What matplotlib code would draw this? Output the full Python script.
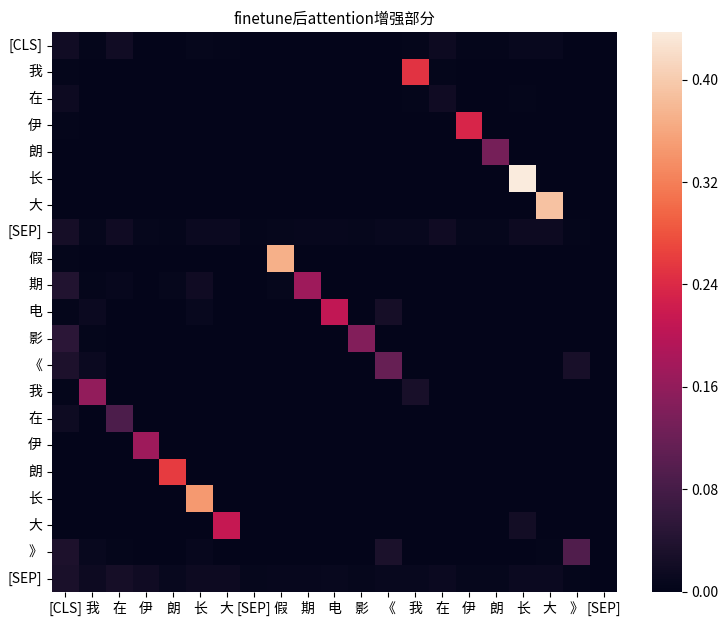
import matplotlib
matplotlib.use('Agg')
import matplotlib.pyplot as plt
import numpy as np
import seaborn as sns

plt.rcParams['font.family'] = ['Noto Sans CJK SC', 'DejaVu Sans']
plt.rcParams['axes.unicode_minus'] = False

tokens = ['[CLS]', '我', '在', '伊', '朗', '长', '大', '[SEP]',
          '假', '期', '电', '影', '《', '我', '在', '伊', '朗', '长', '大', '》', '[SEP]']

# attention gain, one list per row (query token), 21 columns (key token)
row_cls  = [0.020, 0.004, 0.020, 0.003, 0.003, 0.006, 0.004, 0.003, 0.003, 0.003, 0.003, 0.003, 0.003, 0.004, 0.014, 0.004, 0.004, 0.010, 0.010, 0.003, 0.003]
row_wo1  = [0.005, 0.002, 0.002, 0.002, 0.002, 0.002, 0.002, 0.002, 0.002, 0.002, 0.002, 0.002, 0.002, 0.250, 0.004, 0.002, 0.002, 0.002, 0.002, 0.002, 0.002]
row_zai1 = [0.014, 0.002, 0.002, 0.002, 0.002, 0.002, 0.002, 0.002, 0.002, 0.002, 0.002, 0.002, 0.002, 0.005, 0.018, 0.002, 0.002, 0.004, 0.002, 0.002, 0.002]
row_yi1  = [0.004, 0.002, 0.002, 0.002, 0.002, 0.002, 0.002, 0.002, 0.002, 0.002, 0.002, 0.002, 0.002, 0.002, 0.002, 0.235, 0.002, 0.002, 0.003, 0.002, 0.002]
row_lang1 = [0.003, 0.002, 0.002, 0.002, 0.002, 0.002, 0.002, 0.002, 0.002, 0.002, 0.002, 0.002, 0.002, 0.002, 0.002, 0.002, 0.130, 0.002, 0.002, 0.002, 0.002]
row_zhang1 = [0.002, 0.002, 0.002, 0.002, 0.002, 0.002, 0.002, 0.002, 0.002, 0.002, 0.002, 0.002, 0.002, 0.002, 0.002, 0.002, 0.002, 0.437, 0.002, 0.002, 0.002]
row_da1  = [0.002, 0.002, 0.002, 0.002, 0.002, 0.002, 0.002, 0.002, 0.002, 0.002, 0.002, 0.002, 0.002, 0.002, 0.002, 0.002, 0.002, 0.002, 0.390, 0.002, 0.002]
row_sep1 = [0.024, 0.006, 0.018, 0.006, 0.004, 0.012, 0.012, 0.004, 0.006, 0.008, 0.008, 0.006, 0.010, 0.010, 0.018, 0.006, 0.006, 0.014, 0.014, 0.005, 0.002]
row_jia  = [0.004, 0.002, 0.002, 0.002, 0.002, 0.002, 0.002, 0.002, 0.370, 0.003, 0.002, 0.002, 0.002, 0.002, 0.002, 0.002, 0.002, 0.002, 0.002, 0.002, 0.002]
row_qi   = [0.038, 0.004, 0.008, 0.003, 0.006, 0.018, 0.003, 0.003, 0.006, 0.172, 0.003, 0.002, 0.002, 0.002, 0.002, 0.002, 0.002, 0.002, 0.002, 0.002, 0.002]
row_dian = [0.004, 0.012, 0.003, 0.002, 0.002, 0.010, 0.002, 0.002, 0.002, 0.002, 0.208, 0.002, 0.025, 0.002, 0.002, 0.002, 0.002, 0.002, 0.002, 0.002, 0.002]
row_ying = [0.050, 0.004, 0.002, 0.002, 0.002, 0.002, 0.002, 0.002, 0.002, 0.002, 0.002, 0.145, 0.002, 0.002, 0.002, 0.002, 0.002, 0.002, 0.002, 0.002, 0.002]
row_lq   = [0.034, 0.012, 0.002, 0.002, 0.002, 0.002, 0.002, 0.002, 0.002, 0.002, 0.002, 0.002, 0.115, 0.002, 0.002, 0.002, 0.002, 0.002, 0.002, 0.028, 0.002]
row_wo2  = [0.004, 0.160, 0.002, 0.002, 0.002, 0.002, 0.002, 0.002, 0.002, 0.002, 0.002, 0.002, 0.002, 0.028, 0.002, 0.002, 0.002, 0.002, 0.002, 0.002, 0.002]
row_zai2 = [0.016, 0.003, 0.088, 0.002, 0.002, 0.002, 0.002, 0.002, 0.002, 0.002, 0.002, 0.002, 0.002, 0.002, 0.002, 0.002, 0.002, 0.002, 0.002, 0.002, 0.002]
row_yi2  = [0.003, 0.002, 0.002, 0.172, 0.002, 0.002, 0.002, 0.002, 0.002, 0.002, 0.002, 0.002, 0.002, 0.002, 0.002, 0.002, 0.002, 0.002, 0.002, 0.002, 0.002]
row_lang2 = [0.003, 0.002, 0.002, 0.002, 0.258, 0.002, 0.002, 0.002, 0.002, 0.002, 0.002, 0.002, 0.002, 0.002, 0.002, 0.002, 0.002, 0.002, 0.002, 0.002, 0.002]
row_zhang2 = [0.003, 0.002, 0.002, 0.002, 0.002, 0.345, 0.002, 0.002, 0.002, 0.002, 0.002, 0.002, 0.002, 0.002, 0.002, 0.002, 0.002, 0.002, 0.002, 0.002, 0.002]
row_da2  = [0.003, 0.002, 0.002, 0.002, 0.002, 0.002, 0.212, 0.002, 0.002, 0.002, 0.002, 0.002, 0.002, 0.002, 0.002, 0.002, 0.002, 0.022, 0.002, 0.002, 0.002]
row_rq   = [0.034, 0.010, 0.004, 0.003, 0.003, 0.008, 0.003, 0.002, 0.002, 0.002, 0.002, 0.002, 0.032, 0.002, 0.002, 0.002, 0.002, 0.002, 0.004, 0.092, 0.002]
row_sep2 = [0.030, 0.014, 0.024, 0.018, 0.010, 0.014, 0.014, 0.006, 0.008, 0.008, 0.010, 0.006, 0.010, 0.010, 0.012, 0.006, 0.006, 0.012, 0.012, 0.004, 0.003]

rows = [row_cls, row_wo1, row_zai1, row_yi1, row_lang1, row_zhang1, row_da1, row_sep1,
        row_jia, row_qi, row_dian, row_ying, row_lq, row_wo2, row_zai2, row_yi2,
        row_lang2, row_zhang2, row_da2, row_rq, row_sep2]
attn = np.array(rows)

fig = plt.figure(figsize=(7.2, 6.31), dpi=100)
ax = fig.add_axes([0.072, 0.062, 0.785, 0.887])
cax = fig.add_axes([0.906, 0.062, 0.041, 0.887])

sns.heatmap(attn, ax=ax, cbar_ax=cax, xticklabels=tokens, yticklabels=tokens,
            vmin=0, vmax=attn.max())
ax.set_title('finetune后attention增强部分', fontsize=11)
ax.tick_params(axis='x', labelrotation=0, labelsize=10)
ax.tick_params(axis='y', labelrotation=0, labelsize=10)
cax.yaxis.set_major_locator(matplotlib.ticker.MultipleLocator(0.08))
cax.yaxis.set_major_formatter(matplotlib.ticker.FormatStrFormatter('%.2f'))
cax.tick_params(labelsize=10)

fig.savefig('out.png', dpi=100)
